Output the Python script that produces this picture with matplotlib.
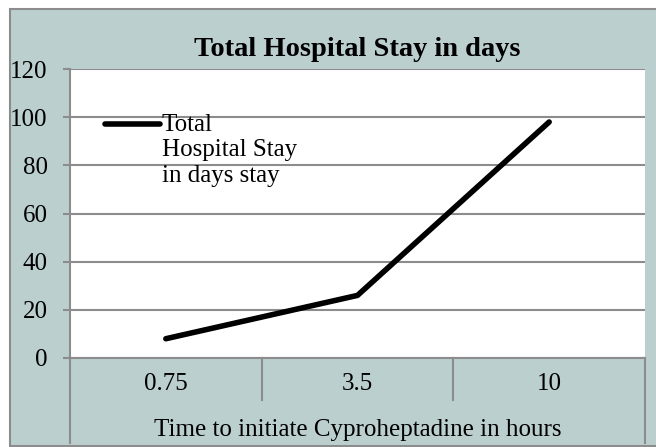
import matplotlib
matplotlib.use("Agg")
import matplotlib.pyplot as plt
from matplotlib.patches import Rectangle
from matplotlib.lines import Line2D
import matplotlib.transforms as mtransforms

categories = ["0.75", "3.5", "10"]
values = [8, 26, 98]
series_name = "Total\nHospital Stay\nin days stay"
title = "Total Hospital Stay in days"
xlabel = "Time to initiate Cyproheptadine in hours"
yticks = [0, 20, 40, 60, 80, 100, 120]

W, H = 656, 447
BG = "#BCCFCF"
GRID = "#8C8C8C"
FS = 18
plt.rcParams["font.family"] = ["Liberation Serif", "DejaVu Serif"]

fig = plt.figure(figsize=(W / 100, H / 100), dpi=100, facecolor="white")
# outer chart area
fig.patches.append(Rectangle((10 / W, 1 - 446 / H), 1.0, (446 - 9) / H,
                             transform=fig.transFigure, facecolor=BG,
                             edgecolor=GRID, linewidth=1.5, zorder=-5))

L, R, T, B = 70, 645, 69, 358
ax = fig.add_axes([L / W, 1 - B / H, (R - L) / W, (B - T) / H])
ax.set_zorder(1)
ax.set_facecolor("white")
x = list(range(len(categories)))
ax.plot(x, values, color="black", linewidth=4, solid_capstyle="round",
        label=series_name, zorder=3)
ax.set_xlim(-0.5, len(categories) - 0.5)
ax.set_ylim(0, 120)
ax.set_yticks(yticks)
ax.set_yticklabels([str(v) for v in yticks], fontsize=FS)
ax.tick_params(axis="y", length=5, width=1.5, color=GRID, pad=11)
ax.grid(axis="y", color=GRID, linewidth=1.5)
ax.set_axisbelow(True)
ax.set_xticks([])
for s in ["top", "right"]:
    ax.spines[s].set_visible(False)
ax.spines["left"].set_color(GRID)
ax.spines["left"].set_linewidth(1.5)
ax.spines["bottom"].set_color(GRID)
ax.spines["bottom"].set_linewidth(1.5)

# category separators below axis
trans = mtransforms.blended_transform_factory(ax.transData, fig.transFigure)
n = len(categories)
for i in range(n + 1):
    xb = i - 0.5
    y_end = 1 - (443 if i in (0, n) else 400) / H
    fig.add_artist(Line2D([xb, xb], [1 - B / H, y_end], transform=trans,
                          color=GRID, linewidth=1.5))
for i, c in enumerate(categories):
    fig.text(i, 1 - 384 / H, c, transform=trans, ha="center", va="center",
             fontsize=FS)
fig.text(0.5 * (L + R) / W, 1 - 430 / H, xlabel, ha="center", va="center",
         fontsize=FS)

fig.text(0.5 * (L + R) / W, 1 - 50 / H, title, ha="center", va="center",
         fontsize=20.5, fontweight="bold")

leg = ax.legend(loc="upper left", bbox_to_anchor=(0.06, 0.845), frameon=False,
                fontsize=FS, handlelength=2.2, handletextpad=0.1,
                borderaxespad=0, borderpad=0)
leg.set_zorder(5)
# align the legend key with the first line of the label
for h in leg.legend_handles:
    yd = h.get_ydata()
    h.set_ydata([v + 18.5 for v in yd])

fig.savefig("out.png", dpi=100, facecolor=fig.get_facecolor())
